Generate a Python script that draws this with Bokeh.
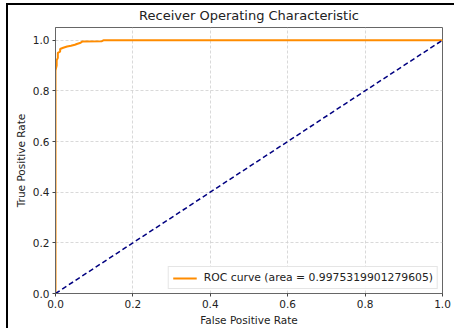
from bokeh.plotting import figure
from bokeh.models import Range1d, Legend, LegendItem, FixedTicker, PrintfTickFormatter
from bokeh.embed import file_html
from bokeh.resources import INLINE

fpr = [0.0, 0.0, 0.003, 0.003, 0.006, 0.006, 0.012, 0.012, 0.02, 0.03, 0.04, 0.05, 0.055, 0.065, 0.07, 0.12, 0.125, 1.0]
tpr = [0.0, 0.88, 0.90, 0.92, 0.93, 0.95, 0.955, 0.965, 0.97, 0.975, 0.978, 0.982, 0.985, 0.99, 0.995, 0.996, 1.0, 1.0]
diag_x = [0.0, 1.0]
diag_y = [0.0, 1.0]
ticks = [0.0, 0.2, 0.4, 0.6, 0.8, 1.0]
roc_auc = 0.9975319901279605

FONT = "DejaVu Sans"

p = figure(width=454, height=328, output_backend="svg", toolbar_location=None,
           x_range=Range1d(0, 1), y_range=Range1d(0, 1.05),
           title="Receiver Operating Characteristic")
p.min_border_left = 55
p.min_border_right = 12
p.min_border_top = 27
p.min_border_bottom = 35

# transparent border area so CSS inset shadows can draw the outer black frame edges (left/top)
p.border_fill_color = None
p.background_fill_color = "white"
p.styles = {
    "background-color": "#ffffff",
    "box-shadow": "inset 6px 3px 0 0 #ffffff, inset 8px 5px 0 0 #000000",
}

p.title.align = "center"
p.title.text_font = FONT
p.title.text_font_size = "13px"
p.title.text_font_style = "normal"
p.title.text_color = "#222222"

for ax in (p.xaxis, p.yaxis):
    ax.ticker = FixedTicker(ticks=ticks)
    ax.formatter = PrintfTickFormatter(format="%.1f")
    ax.major_label_text_font = FONT
    ax.major_label_text_font_size = "10.5px"
    ax.major_label_text_color = "#222222"
    ax.axis_label_text_font = FONT
    ax.axis_label_text_font_size = "10.5px"
    ax.axis_label_text_font_style = "normal"
    ax.axis_label_text_color = "#222222"
    ax.minor_tick_line_color = None
    ax.major_tick_in = 0
    ax.major_tick_out = 3
    ax.axis_line_color = "#666666"
    ax.major_tick_line_color = "#444444"
    ax.axis_label_standoff = 3
    ax.major_label_standoff = 3

p.xaxis.axis_label = "False Positive Rate"
p.yaxis.axis_label = "True Positive Rate"

p.outline_line_color = "#666666"
p.outline_line_width = 1
p.grid.grid_line_color = "#d0d0d0"
p.grid.grid_line_dash = "3 2"
p.grid.grid_line_alpha = 0.8

roc = p.line(fpr, tpr, line_color="darkorange", line_width=2)
p.line(diag_x, diag_y, line_color="navy", line_width=1.5, line_dash="5 3")

legend = Legend(items=[LegendItem(label="ROC curve (area = %s)" % repr(roc_auc), renderers=[roc])],
                location="bottom_right")
legend.label_text_font = FONT
legend.label_text_font_size = "10.8px"
legend.label_text_color = "#222222"
legend.border_line_color = "#cccccc"
legend.glyph_width = 24
legend.glyph_height = 12
legend.padding = 4
legend.spacing = 0
legend.margin = 4
legend.label_standoff = 7
p.add_layout(legend)

open("out.html", "w").write(file_html(p, INLINE))
